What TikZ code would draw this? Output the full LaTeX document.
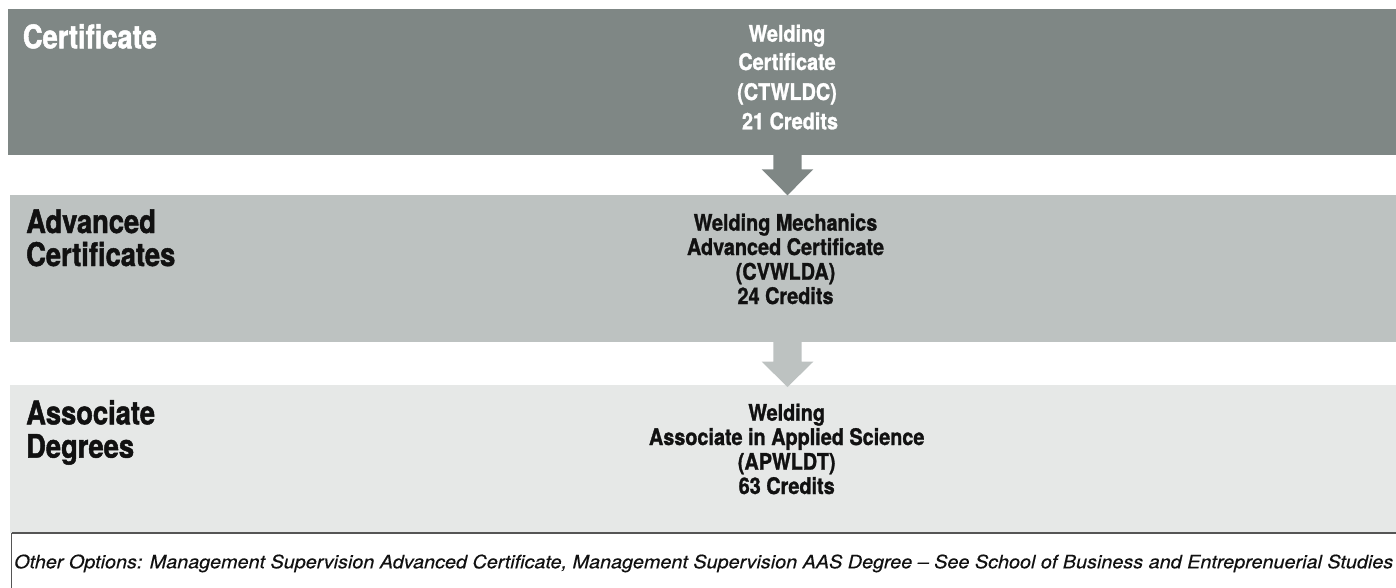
\documentclass[tikz,border=0pt]{standalone}
\usepackage{fontspec}
\setmainfont{TeX Gyre Heros}[FakeStretch=0.87, BoldFeatures={FakeBold=1.2}]
\newfontfamily\headfont{TeX Gyre Heros}[FakeStretch=0.84, BoldFeatures={FakeBold=1.5}]
\newfontfamily\footfont{TeX Gyre Heros}[Ligatures=TeX, FakeStretch=0.9, ItalicFeatures={FakeBold=0.3}]
\definecolor{bandA}{RGB}{127,135,133}
\definecolor{bandB}{RGB}{189,194,193}
\definecolor{bandC}{RGB}{230,232,231}
\definecolor{footline}{RGB}{85,85,85}
\definecolor{txtdark}{RGB}{17,17,17}
\tikzset{
  band/.style={rectangle, draw=none, inner sep=0pt, outer sep=0pt, anchor=north west},
  bodytxt/.style={anchor=base, inner sep=0pt, font=\bfseries\fontsize{22.8}{24}\selectfont},
  headtxt/.style={anchor=base west, inner sep=0pt, font=\headfont\bfseries\fontsize{32.5}{34}\selectfont},
  foottxt/.style={anchor=base west, inner sep=0pt, font=\footfont\itshape\fontsize{18.5}{20}\selectfont, text=txtdark}
}
\begin{document}
\begin{tikzpicture}[x=1pt,y=-1pt]
\useasboundingbox (0,0) rectangle (1396,588);
% bands
\node[band, fill=bandA, minimum width=1388pt, minimum height=146.5pt] (b1) at (8,9) {};
\node[band, fill=bandB, minimum width=1386pt, minimum height=146.8pt] (b2) at (10,195) {};
\node[band, fill=bandC, minimum width=1386pt, minimum height=148pt] (b3) at (10,385) {};
% arrows
\fill[bandA] (773.3,155) -- (801.7,155) -- (801.7,169.3) -- (813.3,169.3) -- (787.5,195.3) -- (761.7,169.3) -- (773.3,169.3) -- cycle;
\fill[bandB] (773.3,341.5) -- (801.7,341.5) -- (801.7,361.7) -- (813.3,361.7) -- (787.5,387) -- (761.7,361.7) -- (773.3,361.7) -- cycle;
% footer frame
\coordinate (fa) at (11.7,600);
\coordinate (fb) at (11.7,533);
\coordinate (fc) at (1396,533);
\draw[footline, line width=1pt] (fa) -- (fb);
\draw[footline, line width=1.6pt] (fb) -- (fc);
% headings
\node[headtxt, text=white] (h1) at (22.7,48.3) {Certificate};
\node[headtxt, text=txtdark] (h2a) at (26,233) {Advanced};
\node[headtxt, text=txtdark] (h2b) at (26,266) {Certificates};
\node[headtxt, text=txtdark] (h3a) at (26,424.3) {Associate};
\node[headtxt, text=txtdark] (h3b) at (26,457.7) {Degrees};
% band 1 text
\node[bodytxt, text=white] (p1a) at (787,41.7) {Welding};
\node[bodytxt, text=white] (p1b) at (787,70) {Certificate};
\node[bodytxt, text=white] (p1c) at (787,100) {(CTWLDC)};
\node[bodytxt, text=white] (p1d) at (790,129.3) {21 Credits};
% band 2 text
\node[bodytxt, text=txtdark] (p2a) at (785.5,230.7) {Welding Mechanics};
\node[bodytxt, text=txtdark] (p2b) at (785.5,255) {Advanced Certificate};
\node[bodytxt, text=txtdark] (p2c) at (785.5,279.7) {(CVWLDA)};
\node[bodytxt, text=txtdark] (p2d) at (785.5,304) {24 Credits};
% band 3 text
\node[bodytxt, text=txtdark] (p3a) at (786.7,420.7) {Welding};
\node[bodytxt, text=txtdark] (p3b) at (786.7,445) {Associate in Applied Science};
\node[bodytxt, text=txtdark] (p3c) at (786.7,469.7) {(APWLDT)};
\node[bodytxt, text=txtdark] (p3d) at (786.7,494) {63 Credits};
% footer text
\node[foottxt] (ft) at (14,568.3) {\resizebox{1379pt}{\height}{Other Options: Management Supervision Advanced Certificate, Management Supervision AAS Degree – See School of Business and Entreprenuerial Studies}};
\end{tikzpicture}
\end{document}
